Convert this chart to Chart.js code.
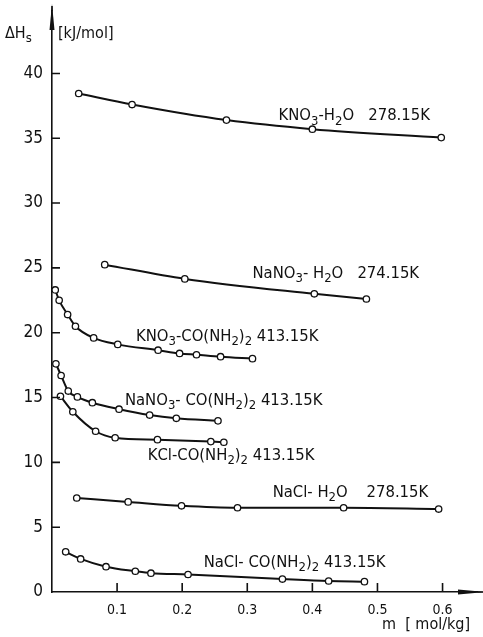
<!DOCTYPE html>
<html>
<head>
<meta charset="utf-8">
<script src="https://cdn.jsdelivr.net/npm/chart.js@4.4.0/dist/chart.umd.min.js"></script>
<style>
  html, body { margin: 0; padding: 0; background: #fff; }
  #wrap { width: 483px; height: 637px; }
</style>
</head>
<body>
<div id="wrap"><canvas id="myChart"></canvas></div>
<script>
// values: molality m [mol/kg] and ΔHs [kJ/mol]
const kno3WaterM = [0.041, 0.123, 0.268, 0.400, 0.598];
const kno3WaterH = [38.45, 37.6, 36.4, 35.7, 35.05];

const nano3WaterM = [0.081, 0.204, 0.403, 0.483];
const nano3WaterH = [25.25, 24.15, 23.0, 22.6];

const kno3UreaM = [0.005, 0.011, 0.024, 0.036, 0.064, 0.101, 0.163, 0.196, 0.222, 0.259, 0.308];
const kno3UreaH = [23.3, 22.5, 21.4, 20.5, 19.6, 19.1, 18.65, 18.4, 18.3, 18.15, 18.0];

const nano3UreaM = [0.006, 0.014, 0.025, 0.039, 0.062, 0.103, 0.150, 0.191, 0.255];
const nano3UreaH = [17.6, 16.7, 15.5, 15.05, 14.6, 14.1, 13.65, 13.4, 13.2];

const kclUreaM = [0.013, 0.032, 0.067, 0.097, 0.162, 0.244, 0.264];
const kclUreaH = [15.1, 13.9, 12.4, 11.9, 11.75, 11.6, 11.55];

const naclWaterM = [0.038, 0.117, 0.199, 0.285, 0.448, 0.594];
const naclWaterH = [7.25, 6.95, 6.65, 6.5, 6.5, 6.4];

const naclUreaM = [0.021, 0.044, 0.083, 0.128, 0.152, 0.209, 0.354, 0.425, 0.480];
const naclUreaH = [3.1, 2.55, 1.95, 1.6, 1.45, 1.35, 1.0, 0.85, 0.8];

const yTicks = [0, 5, 10, 15, 20, 25, 30, 35, 40];
const xTicks = [0.1, 0.2, 0.3, 0.4, 0.5, 0.6];

// curve labels, "_" marks the next character as subscript
const curveLabels = [
  { m: 0.348, h: 36.7,  text: "KNO_3-H_2O   278.15K" },
  { m: 0.308, h: 24.55, text: "NaNO_3- H_2O   274.15K" },
  { m: 0.129, h: 19.7,  text: "KNO_3-CO(NH_2)_2 413.15K" },
  { m: 0.112, h: 14.75, text: "NaNO_3- CO(NH_2)_2 413.15K" },
  { m: 0.147, h: 10.5,  text: "KCl-CO(NH_2)_2 413.15K" },
  { m: 0.339, h: 7.65,  text: "NaCl- H_2O    278.15K" },
  { m: 0.233, h: 2.25,  text: "NaCl- CO(NH_2)_2 413.15K" }
];

const FONT = "'DejaVu Sans Condensed', 'DejaVu Sans', sans-serif";

function toPoints(ms, hs) {
  return ms.map((m, i) => ({ x: m, y: hs[i] }));
}

function series(ms, hs) {
  return {
    data: toPoints(ms, hs),
    borderColor: '#111',
    borderWidth: 2,
    cubicInterpolationMode: 'monotone',
    pointRadius: 3.2,
    pointBackgroundColor: '#fff',
    pointBorderColor: '#111',
    pointBorderWidth: 1.3,
    fill: false
  };
}

// draws text where "_x" is a subscript x
function drawRich(ctx, text, x, y, size) {
  let cx = x;
  for (let i = 0; i < text.length; i++) {
    let ch = text[i];
    if (ch === '_' && i + 1 < text.length) {
      ch = text[++i];
      ctx.font = Math.round(size * 0.8) + 'px ' + FONT;
      ctx.fillText(ch, cx, y + size * 0.3);
    } else {
      ctx.font = size + 'px ' + FONT;
      ctx.fillText(ch, cx, y);
    }
    cx += ctx.measureText(ch).width;
  }
}

const decorations = {
  id: 'decorations',
  afterDraw(chart) {
    const ctx = chart.ctx;
    const xs = chart.scales.x, ys = chart.scales.y;
    const x0 = xs.getPixelForValue(0), y0 = ys.getPixelForValue(0);
    const top = chart.chartArea.top, right = chart.chartArea.right;
    ctx.save();
    ctx.strokeStyle = '#111';
    ctx.fillStyle = '#111';
    ctx.lineWidth = 1.6;
    // inside tick marks and axis extensions up to the arrows
    ctx.beginPath();
    yTicks.forEach(v => {
      if (v === 0) return;
      const py = ys.getPixelForValue(v);
      ctx.moveTo(x0, py); ctx.lineTo(x0 + 8, py);
    });
    xTicks.forEach(v => {
      const px = xs.getPixelForValue(v);
      ctx.moveTo(px, y0); ctx.lineTo(px, y0 - 9);
    });
    ctx.moveTo(x0, top); ctx.lineTo(x0, 6);
    ctx.moveTo(right, y0); ctx.lineTo(483, y0);
    ctx.stroke();
    // arrows
    ctx.beginPath();
    ctx.moveTo(x0, 4); ctx.lineTo(x0 - 2.5, 30); ctx.lineTo(x0 + 2.5, 30); ctx.closePath();
    ctx.fill();
    ctx.beginPath();
    ctx.moveTo(485, y0); ctx.lineTo(458, y0 - 2.5); ctx.lineTo(458, y0 + 2.5); ctx.closePath();
    ctx.fill();
    // curve labels
    ctx.textBaseline = 'middle';
    ctx.textAlign = 'left';
    curveLabels.forEach(l => {
      drawRich(ctx, l.text, xs.getPixelForValue(l.m), ys.getPixelForValue(l.h), 16.5);
    });
    // axis titles
    drawRich(ctx, 'ΔH_s', 5, 34, 16);
    ctx.font = '16px ' + FONT;
    ctx.fillText('[kJ/mol]', x0 + 6, 34);
    ctx.fillText('m  [ mol/kg]', 382, 625);
    ctx.restore();
  }
};

const ctx = document.getElementById('myChart');
new Chart(ctx, {
  type: 'line',
  data: {
    datasets: [
      series(kno3WaterM, kno3WaterH),
      series(nano3WaterM, nano3WaterH),
      series(kno3UreaM, kno3UreaH),
      series(nano3UreaM, nano3UreaH),
      series(kclUreaM, kclUreaH),
      series(naclWaterM, naclWaterH),
      series(naclUreaM, naclUreaH)
    ]
  },
  options: {
    responsive: true,
    maintainAspectRatio: false,
    animation: false,
    layout: { padding: { top: 5, right: 0, left: 0, bottom: 0 } },
    plugins: { legend: { display: false }, tooltip: { enabled: false } },
    scales: {
      x: {
        type: 'linear',
        min: 0,
        max: 0.654,
        afterFit: s => { s.height = 45; },
        afterBuildTicks: s => { s.ticks = xTicks.map(v => ({ value: v })); },
        grid: { display: false },
        border: { display: true, color: '#111', width: 1.6 },
        ticks: {
          padding: 2,
          color: '#111',
          font: { family: FONT, size: 14 },
          callback: v => v.toFixed(1)
        }
      },
      y: {
        min: 0,
        max: 44.8,
        afterFit: s => { s.width = 52; },
        afterBuildTicks: s => { s.ticks = yTicks.map(v => ({ value: v })); },
        grid: { display: false },
        border: { display: true, color: '#111', width: 1.6 },
        ticks: {
          padding: 1,
          color: '#111',
          font: { family: FONT, size: 17 }
        }
      }
    }
  },
  plugins: [decorations]
});
</script>
</body>
</html>
